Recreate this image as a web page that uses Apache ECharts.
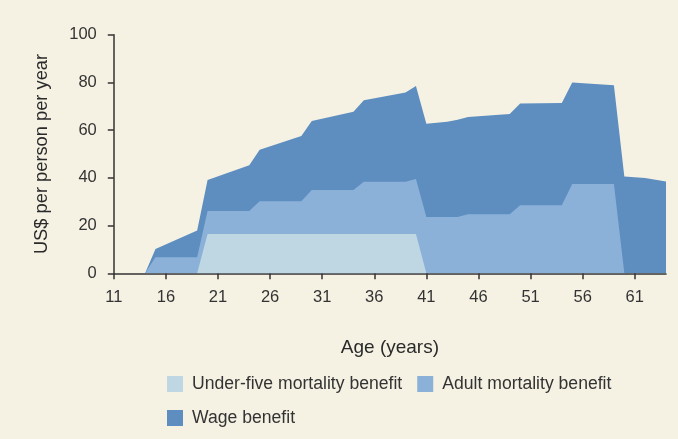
<!DOCTYPE html>
<html>
<head>
<meta charset="utf-8">
<script src="https://cdn.jsdelivr.net/npm/echarts@6/dist/echarts.min.js"></script>
<style>
  html, body { margin: 0; padding: 0; background: #F5F2E4; }
  #chart { width: 678px; height: 439px; }
</style>
</head>
<body>
<div id="chart"></div>
<script>
// Ages (years) at which the benefit profile changes
const ages = [11, 14, 15, 19, 20, 24, 25, 29, 30, 34, 35, 39, 40, 41, 43, 44, 45, 49, 50, 54, 55, 59, 60, 62, 64];

// US$ per person per year for each component, stacked from the bottom up
const underFiveBenefit = [0, 0, 0, 0, 16.5, 16.5, 16.5, 16.5, 16.5, 16.5, 16.5, 16.5, 16.5, 0, 0, 0, 0, 0, 0, 0, 0, 0, 0, 0, 0];
const adultBenefit     = [0, 0, 6.7, 6.7, 9.6, 9.6, 13.7, 13.7, 18.4, 18.4, 21.9, 21.9, 23.0, 23.6, 23.6, 23.6, 24.7, 24.7, 28.5, 28.5, 37.4, 37.4, 0, 0, 0];
const wageBenefit      = [0, 0, 3.5, 11.2, 13.0, 19.2, 21.6, 27.3, 28.9, 32.8, 34.1, 37.4, 39.0, 39.1, 39.9, 40.8, 40.8, 42.1, 42.7, 42.9, 42.6, 41.4, 40.6, 39.9, 38.5];

const ageTicks = [11, 16, 21, 26, 31, 36, 41, 46, 51, 56, 61];
const seriesNames = ['Under-five mortality benefit', 'Adult mortality benefit', 'Wage benefit'];
const seriesColors = ['#BED7E3', '#8BB1D9', '#5E8EC0'];

const FONT = '"Liberation Sans", Arial, sans-serif';
const AXIS_COLOR = '#333333';

// Running totals: each band is painted from zero up to its cumulative top,
// with the taller bands drawn first so the lower ones sit in front.
const components = [underFiveBenefit, adultBenefit, wageBenefit];
const cumulative = components.map((_, k) =>
  ages.map((a, i) => {
    let s = 0;
    for (let j = 0; j <= k; j++) s += components[j][i];
    return [a, +s.toFixed(2)];
  })
);

const chart = echarts.init(document.getElementById('chart'), null, { renderer: 'canvas' });

const legendText = {
  fontFamily: FONT,
  fontSize: 17.6,
  color: '#333333',
  padding: [0, 0, 0, 4],
  lineHeight: 16
};

const order = [2, 1, 0];

chart.setOption({
  backgroundColor: '#F5F2E4',
  animation: false,
  grid: { left: 113.8, right: 12, top: 34.7, bottom: 165.7, containLabel: false },
  legend: [
    {
      data: [seriesNames[0], seriesNames[1]],
      left: 167, top: 375, width: 505, padding: 0,
      itemWidth: 16, itemHeight: 16, itemGap: 15,
      icon: 'rect',
      textStyle: legendText
    },
    {
      data: [seriesNames[2]],
      left: 167, top: 409, padding: 0,
      itemWidth: 16, itemHeight: 16,
      icon: 'rect',
      textStyle: legendText
    }
  ],
  xAxis: {
    type: 'value',
    min: 11,
    max: 64,
    name: 'Age (years)',
    nameLocation: 'middle',
    nameGap: 65,
    nameTextStyle: { fontFamily: FONT, fontSize: 19, color: '#2a2a2a' },
    axisLine: { show: true, lineStyle: { color: AXIS_COLOR, width: 1.5 } },
    axisTick: { show: true, length: 6, customValues: ageTicks, lineStyle: { color: AXIS_COLOR, width: 1.5 } },
    axisLabel: { customValues: ageTicks, margin: 16, fontFamily: FONT, fontSize: 16.5, color: '#333333' },
    splitLine: { show: false }
  },
  yAxis: {
    type: 'value',
    min: 0,
    max: 100,
    interval: 20,
    name: 'US$ per person per year',
    nameLocation: 'middle',
    nameGap: 63,
    nameTextStyle: { fontFamily: FONT, fontSize: 18.3, color: '#2a2a2a' },
    axisLine: { show: true, lineStyle: { color: AXIS_COLOR, width: 1.5 } },
    axisTick: { show: true, length: 6, lineStyle: { color: AXIS_COLOR, width: 1.5 } },
    axisLabel: { margin: 17, fontFamily: FONT, fontSize: 16.5, color: '#333333' },
    splitLine: { show: false }
  },
  series: order.map((k) => ({
    name: seriesNames[k],
    type: 'line',
    data: cumulative[k],
    showSymbol: false,
    symbol: 'none',
    lineStyle: { width: 0 },
    itemStyle: { color: seriesColors[k] },
    areaStyle: { color: seriesColors[k], opacity: 1, origin: 'start' },
    z: 2
  }))
});
</script>
</body>
</html>
